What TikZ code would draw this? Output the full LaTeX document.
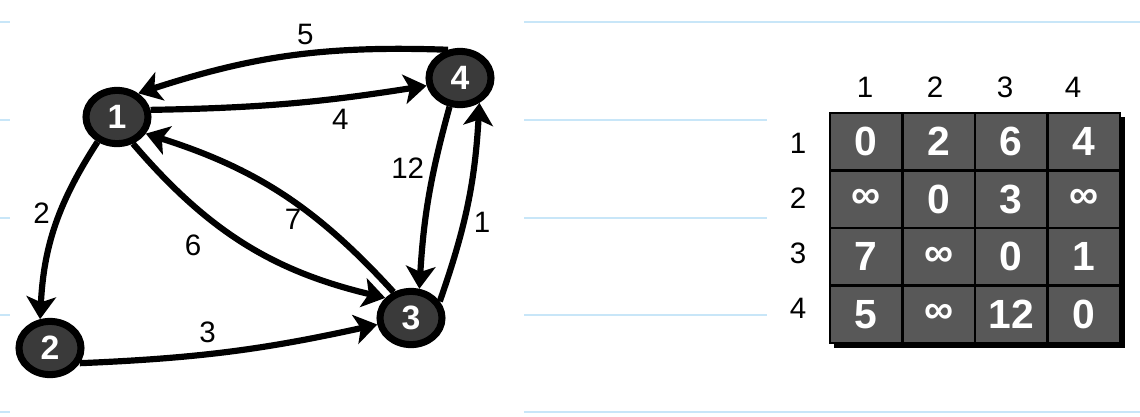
\documentclass[tikz,border=0pt]{standalone}
\usepackage{fontspec}
\setmainfont{Liberation Sans}
\usetikzlibrary{shapes.geometric}
\usetikzlibrary{arrows.meta}
\usetikzlibrary{positioning}
\definecolor{rulerblue}{RGB}{200,230,248}
\definecolor{nodegray}{RGB}{58,58,58}
\definecolor{cellgray}{RGB}{88,88,88}

\begin{document}
\begin{tikzpicture}[x=0.025cm, y=-0.025cm]
        % Define styles for shapes
        \tikzstyle{vertex} = [draw, ellipse, line width=5pt, fill=nodegray, text=white, font=\fontsize{24}{28}\selectfont\bfseries, minimum width=1.55cm, minimum height=1.33cm, inner sep=0pt]
        \tikzstyle{edge} = [line width=4.4pt, -{Stealth[length=16pt, width=21pt, inset=4pt]}]
        \tikzstyle{weight} = [font=\fontsize{21}{24}\selectfont, inner sep=4pt]
        \tikzstyle{cell} = [draw, line width=1.8pt, fill=cellgray, text=white, font=\fontsize{29}{34}\selectfont\bfseries, minimum width=1.8125cm, minimum height=1.4375cm, inner sep=0pt]
        \tikzstyle{ruler} = [rulerblue, line width=1.5pt]

        \useasboundingbox (0,0) rectangle (1140,416);

        % Ruled paper
        \foreach \y in {22,120,218,315,412} \draw[ruler] (0,\y) -- (10,\y);
        \foreach \y in {120,218,315} \draw[ruler] (524,\y) -- (767,\y);
        \foreach \y in {22,412} \draw[ruler] (524,\y) -- (1140,\y);

        % Draw vertices
        \node[vertex] (n1) at (117, 117) {1};
        \node[vertex] (n2) at (50, 348) {2};
        \node[vertex] (n3) at (411, 318) {3};
        \node[vertex] (n4) at (460, 78) {4};

        % Draw arrows
        \draw[edge] (n4.113) to[bend right=10] node[weight, pos=0.45, above] {5} (n1.48);
        \draw[edge] (n1.12) to[bend right=4] node[weight, pos=0.7, below, inner sep=6pt] {4} (n4.193);
        \draw[edge] (n1.232) to[bend right=15] node[weight, pos=0.42, left, inner sep=5pt] {2} (n2.109);
        \draw[edge] (n1.301) to[bend right=18] node[weight, pos=0.31, below left, inner sep=7pt, xshift=9pt, yshift=-7pt] {6} (n3.142);
        \draw[edge] (n3.124) to[bend right=15] node[weight, pos=0.45, below, inner sep=3pt] {7} (n1.330);
        \draw[edge] (n4.250) to[bend right=6] node[weight, pos=0.33, left, inner sep=5pt] {12} (n3.74);
        \draw[edge] (n3.30) to[bend right=8] node[weight, pos=0.4, right, inner sep=5pt] {1} (n4.308);
        \draw[edge] (n2.-27) to[bend right=5] node[weight, pos=0.42, above, inner sep=6pt] {3} (n3.191);

        % Draw matrix
        \fill[black] (834,117) rectangle (1125,348);
        \foreach \vals [count=\r] in {{0,2,6,4},{∞,0,3,∞},{7,∞,0,1},{5,∞,12,0}} {
            \foreach \v [count=\c] in \vals {
                \node[cell] (c\r\c) at ({793.75+72.5*\c}, {84.25+57.5*\r}) {\v};
            }
        }
        \foreach \x [count=\c] in {865,935,1005,1073} \node[weight] (col\c) at (\x, 87) {\c};
        \foreach \y [count=\r] in {143,198,253,308} \node[weight] (row\r) at (798, \y) {\r};
    \end{tikzpicture}
\end{document}
